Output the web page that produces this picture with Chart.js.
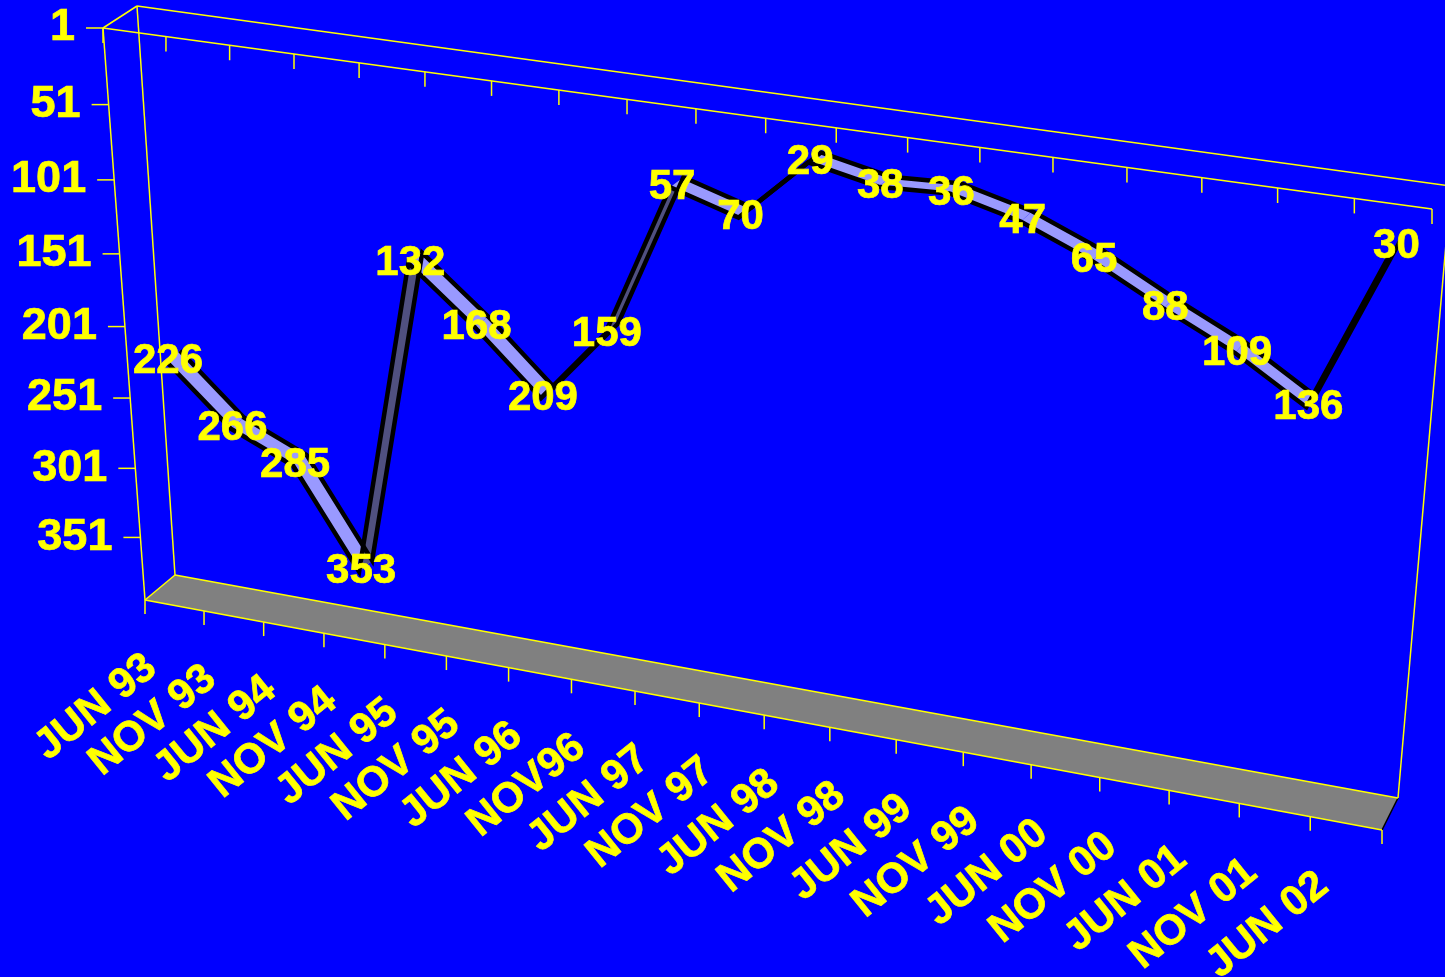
<!DOCTYPE html>
<html>
<head>
<meta charset="utf-8">
<title>Ranking</title>
<script src="https://cdn.jsdelivr.net/npm/chart.js@4/dist/chart.umd.min.js"></script>
<style>
  html, body { margin: 0; padding: 0; background: #0000FF; overflow: hidden; }
  canvas { display: block; }
</style>
</head>
<body>
<canvas id="chartRank" width="1445" height="977"></canvas>
<script>
const PERIODS = ['JUN 93','NOV 93','JUN 94','NOV 94','JUN 95','NOV 95','JUN 96','NOV96','JUN 97','NOV 97',
  'JUN 98','NOV 98','JUN 99','NOV 99','JUN 00','NOV 00','JUN 01','NOV 01','JUN 02'];
const RANKS = [226,266,285,353,132,168,209,159,57,70,29,38,36,47,65,88,109,136,30];
const RANK_TICKS = [1,51,101,151,201,251,301,351];

const YELLOW = '#FFFF00';
const AXIS_FONT = 'bold 45px "Liberation Sans", Arial, sans-serif';
const PERIOD_FONT = 'bold 42px "Liberation Sans", Arial, sans-serif';
const LABEL_FONT = 'bold 42px "Liberation Sans", Arial, sans-serif';

// corners of the box, front and back plane: [top left, top right, bottom right, bottom left]
const FRONT = [[103,28],[1432,209],[1382,830],[145,600]];
const BACK = [[137,6],[1451,186],[1398,798],[175,575]];

// unit square -> quad
function homography(q) {
  const [[x0,y0],[x1,y1],[x2,y2],[x3,y3]] = q;
  const dx1 = x1-x2, dx2 = x3-x2, sx = x0-x1+x2-x3;
  const dy1 = y1-y2, dy2 = y3-y2, sy = y0-y1+y2-y3;
  const det = dx1*dy2 - dx2*dy1;
  const g = (sx*dy2 - dx2*sy)/det, h = (dx1*sy - sx*dy1)/det;
  const a = x1-x0+g*x1, b = x3-x0+h*x3, d = y1-y0+g*y1, e = y3-y0+h*y3;
  return (u, v) => {
    const k = g*u + h*v + 1;
    return [(a*u + b*v + x0)/k, (d*u + e*v + y0)/k];
  };
}
const hFront = homography(FRONT);
const hBack = homography(BACK);

// u along the categories, v down the value axis, w into the box
function project(u, v, w) {
  const f = hFront(u, v), b = hBack(u, v);
  return [f[0] + (b[0]-f[0])*w, f[1] + (b[1]-f[1])*w];
}

function seg(ctx, a, b) {
  ctx.beginPath();
  ctx.moveTo(a[0], a[1]);
  ctx.lineTo(b[0], b[1]);
  ctx.stroke();
}

function boldText(ctx, text, x, y) {
  ctx.fillText(text, x, y);
  ctx.strokeText(text, x, y);
}

function unitX(chart, px) { return (px - chart.chartArea.left) / chart.chartArea.width; }
function unitY(chart, py) { return (py - chart.chartArea.top) / chart.chartArea.height; }

const boxPlugin = {
  id: 'box',
  // push the computed points through the perspective of the box
  afterDatasetsUpdate(chart) {
    chart.data.datasets.forEach((ds, i) => {
      chart.getDatasetMeta(i).data.forEach(pt => {
        const p = project(unitX(chart, pt.x), unitY(chart, pt.y), ds.depth);
        pt.x = p[0];
        pt.y = p[1];
      });
    });
  },
  beforeDatasetsDraw(chart) {
    const ctx = chart.ctx;
    const n = PERIODS.length;
    ctx.save();

    // floor
    ctx.fillStyle = '#808080';
    ctx.beginPath();
    [[0,0],[1,0],[1,1],[0,1]].forEach(([u,w], i) => {
      const p = project(u, 1, w);
      i ? ctx.lineTo(p[0], p[1]) : ctx.moveTo(p[0], p[1]);
    });
    ctx.closePath();
    ctx.fill();
    ctx.strokeStyle = '#000000';
    ctx.lineWidth = 1.5;
    seg(ctx, project(1,1,0), project(1,1,1));

    // walls and top frame
    ctx.strokeStyle = YELLOW;
    ctx.lineWidth = 1.5;
    seg(ctx, project(0,0,0), project(1,0,0));
    seg(ctx, project(0,0,1), project(1,0,1));
    seg(ctx, project(0,0,0), project(0,0,1));
    seg(ctx, project(0,0,0), project(0,1,0));
    seg(ctx, project(0,0,1), project(0,1,1));
    seg(ctx, project(1,0,1), project(1,1,1));
    seg(ctx, project(0,1,0), project(1,1,0));
    seg(ctx, project(0,1,1), project(1,1,1));
    seg(ctx, project(0,1,0), project(0,1,1));

    // category ticks, top frame and floor edge
    const xs = chart.scales.x, ys = chart.scales.y;
    const band = xs.getPixelForValue(1) - xs.getPixelForValue(0);
    for (let i = 0; i <= n; i++) {
      const u = unitX(chart, xs.getPixelForValue(0) + (i - 0.5)*band);
      const top = project(u, 0, 0), bot = project(u, 1, 0);
      seg(ctx, top, [top[0], top[1] + 15]);
      seg(ctx, bot, [bot[0], bot[1] + 14]);
    }

    // value ticks
    ys.ticks.forEach(t => {
      const p = project(0, unitY(chart, ys.getPixelForValue(t.value)), 0);
      seg(ctx, [p[0] - 17, p[1]], p);
    });
    ctx.restore();

    // ribbon faces between the two lines
    const front = chart.getDatasetMeta(0).data, back = chart.getDatasetMeta(1).data;
    ctx.save();
    for (let i = 0; i < front.length - 1; i++) {
      const a = front[i], b = front[i+1], c = back[i+1], d = back[i];
      const cross = (b.x-a.x)*(d.y-a.y) - (b.y-a.y)*(d.x-a.x);
      ctx.fillStyle = cross < 0 ? '#9999FF' : '#505080';
      ctx.beginPath();
      ctx.moveTo(a.x, a.y);
      ctx.lineTo(b.x, b.y);
      ctx.lineTo(c.x, c.y);
      ctx.lineTo(d.x, d.y);
      ctx.closePath();
      ctx.fill();
    }
    ctx.restore();
  },
  afterDatasetsDraw(chart) {
    const ctx = chart.ctx;
    const xs = chart.scales.x, ys = chart.scales.y;
    ctx.save();
    ctx.fillStyle = YELLOW;
    ctx.strokeStyle = YELLOW;
    ctx.lineWidth = 0.7;

    // value axis labels
    ctx.font = AXIS_FONT;
    ctx.textAlign = 'right';
    ctx.textBaseline = 'middle';
    ys.ticks.forEach(t => {
      const p = project(0, unitY(chart, ys.getPixelForValue(t.value)), 0);
      boldText(ctx, String(t.value), p[0] - 28, p[1]);
    });

    // slanted period labels
    ctx.font = PERIOD_FONT;
    PERIODS.forEach((label, i) => {
      const p = project(unitX(chart, xs.getPixelForValue(i)), 1, 0);
      ctx.save();
      ctx.translate(p[0] - 23, p[1] + 57);
      ctx.rotate(-39 * Math.PI / 180);
      ctx.textAlign = 'right';
      ctx.textBaseline = 'middle';
      boldText(ctx, label, 0, 0);
      ctx.restore();
    });

    // value labels over the ribbon
    ctx.font = LABEL_FONT;
    ctx.textAlign = 'center';
    ctx.textBaseline = 'middle';
    chart.getDatasetMeta(0).data.forEach((pt, i) => {
      boldText(ctx, String(RANKS[i]), pt.x + 2, pt.y);
    });
    ctx.restore();
  }
};

new Chart(document.getElementById('chartRank'), {
  type: 'line',
  data: {
    labels: PERIODS,
    datasets: [
      { label: 'front', data: RANKS, depth: 0.26, borderColor: '#000000', borderWidth: 4.5, pointRadius: 0, fill: false },
      { label: 'back', data: RANKS, depth: 0.7, borderColor: '#000000', borderWidth: 4.5, pointRadius: 0, fill: false }
    ]
  },
  options: {
    responsive: false,
    animation: false,
    layout: { padding: 0 },
    plugins: { legend: { display: false }, tooltip: { enabled: false } },
    scales: {
      x: { type: 'category', offset: true, display: false },
      y: {
        type: 'linear', reverse: true, min: 1, max: 397, display: false,
        afterBuildTicks: scale => { scale.ticks = RANK_TICKS.map(value => ({ value })); }
      }
    }
  },
  plugins: [boxPlugin]
});
</script>
</body>
</html>
